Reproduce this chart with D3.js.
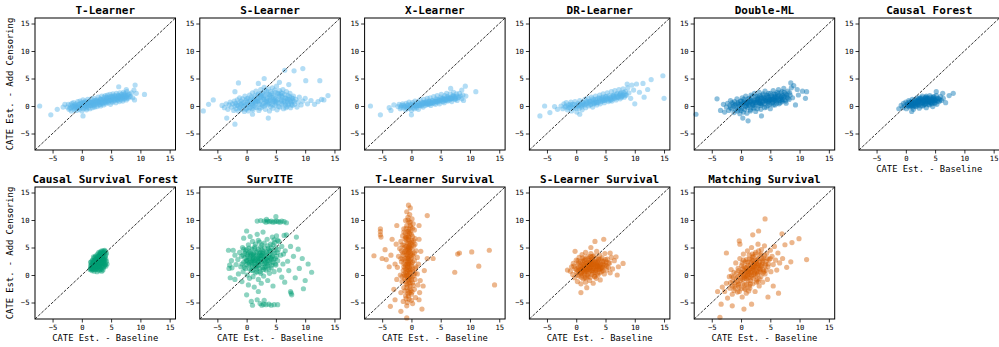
<!DOCTYPE html>
<html>
<head>
<meta charset="utf-8">
<script src="https://cdn.jsdelivr.net/npm/d3@7"></script>
<style>
  html, body { margin: 0; padding: 0; background: #fff; }
  svg { display: block; }
  text { font-family: "DejaVu Sans Mono", monospace; fill: #000; }
</style>
</head>
<body>
<svg id="chart" width="999" height="347"></svg>
<script>
// Estimator names, in panel order (row-major, 6 columns)
const methods = ["T-Learner", "S-Learner", "X-Learner", "DR-Learner", "Double-ML", "Causal Forest",
  "Causal Survival Forest", "SurvITE", "T-Learner Survival", "S-Learner Survival", "Matching Survival"];
const methodColors = ["#56B4E9", "#56B4E9", "#56B4E9", "#56B4E9", "#0072B2", "#0072B2",
  "#009E73", "#009E73", "#D55E00", "#D55E00", "#D55E00"];
const tickValues = [-5, 0, 5, 10, 15];
const axisLimits = [-8, 16];
const xLabel = "CATE Est. - Baseline";
const yLabel = "CATE Est. - Add Censoring";

// [baseline estimate, add-censoring estimate] per unit
const tLearner = [[-2.5,-0.2],[-2.3,0.3],[-2.2,-0.6],[-2.0,-0.4],[-1.9,0.2],[-1.8,-0.9],[-1.7,0.5],[-1.5,-0.1],[-1.4,0.6],[-1.3,-0.7],[-1.2,0.2],[-1.1,-0.3],[-1.0,0.4],[-0.9,-0.8],[-0.8,0.0],[-0.7,0.8],[-0.6,-0.4],[-0.5,0.3],[-0.4,-0.6],[-0.3,0.9],[-0.2,-0.1],[-0.1,0.5],[0.0,-0.9],[0.1,0.2],[0.2,1.1],[0.3,-0.5],[0.4,0.6],[0.5,-0.2],[0.6,0.9],[0.7,0.0],[0.8,-0.7],[0.9,0.5],[1.0,1.2],[1.1,-0.3],[1.2,0.3],[1.3,0.8],[1.4,-0.5],[1.5,0.1],[1.6,1.3],[1.7,0.6],[1.8,-0.3],[1.9,0.9],[2.0,0.2],[2.1,1.4],[2.2,-0.2],[2.3,0.7],[2.4,0.3],[2.5,1.1],[2.6,-0.1],[2.7,0.5],[2.8,1.6],[2.9,0.2],[3.0,0.9],[3.1,1.3],[3.2,0.0],[3.3,0.6],[3.4,1.8],[3.5,0.4],[3.6,1.1],[3.7,0.2],[3.8,1.6],[3.9,0.7],[4.0,1.9],[4.1,0.4],[4.2,1.2],[4.3,0.8],[4.4,2.0],[4.5,0.6],[4.6,1.4],[4.7,1.0],[4.8,2.1],[4.9,0.3],[5.0,1.7],[5.1,1.2],[5.2,0.7],[5.3,2.2],[5.4,1.5],[5.5,0.9],[5.6,1.9],[5.7,1.3],[5.8,0.6],[5.9,2.3],[6.0,1.6],[6.1,1.0],[6.2,2.0],[6.3,1.4],[6.4,0.8],[6.5,2.4],[6.6,1.7],[6.7,1.1],[6.8,2.1],[6.9,1.5],[7.0,0.9],[7.1,2.5],[7.2,1.8],[7.3,1.3],[7.4,2.2],[7.5,1.6],[7.6,1.1],[7.7,2.6],[7.8,1.9],[7.9,1.4],[8.1,2.2],[8.3,1.7],[8.5,2.4],[8.7,1.5],[1.0,0.4],[2.0,0.6],[3.0,0.7],[4.0,1.0],[5.0,1.1],[6.0,1.3],[7.0,1.6],[0.0,0.1],[-1.0,-0.1],
  [-1.8,-0.3],[-1.6,0.0],[-1.3,-0.4],[-1.0,0.1],[-0.7,-0.3],[-0.5,-0.1],[-0.3,0.4],[-0.1,-0.3],[0.1,0.6],[0.3,0.1],[0.5,0.4],[0.7,-0.4],[0.9,0.0],[1.1,0.5],[1.3,0.1],[1.5,0.7],[1.7,0.2],[1.9,0.4],[2.1,0.0],[2.3,1.0],[2.5,0.6],[2.7,0.9],[2.9,0.7],[3.1,0.3],[3.3,1.1],[3.5,0.8],[3.7,1.3],[3.9,1.0],[4.1,0.7],[4.3,1.5],[4.5,1.1],[4.7,1.6],[4.9,1.2],[5.1,0.9],[5.3,1.6],[5.5,1.3],[5.7,1.8],[5.9,1.5],[6.1,1.2],[6.3,1.9],[6.5,1.6],[6.7,2.0],[6.9,1.7],[7.1,1.3],[7.3,2.0],[7.5,1.8],[7.7,1.5],[7.9,2.1],[8.1,1.7],[0.6,0.6],[1.6,0.6],[2.6,0.8],[3.6,0.6],[4.6,0.9],[5.6,1.1],[6.6,1.3],[1.2,0.8],[2.2,1.0],[3.2,1.2],[4.2,1.6],[5.2,1.8],[6.2,1.7],[7.2,2.2],
  [-7.2,0.0],[-5.3,-1.6],[-4.2,-0.6],[-3.2,-0.2],[-2.9,0.3],[0.2,-1.8],[6.3,3.5],[9.1,3.8],[10.7,2.1],[9.0,1.1],[9.3,2.3],[8.9,2.9],[7.6,3.0]];

const sLearner = [[-4.2,0.1],[-3.8,-0.3],[-3.5,0.4],[-3.2,-0.6],[-3.0,0.2],[-2.8,0.7],[-2.6,-0.2],[-2.4,0.4],[-2.2,-0.8],[-2.1,0.9],[-2.0,0.0],[-1.9,0.5],[-1.8,-0.5],[-1.6,1.1],[-1.5,0.1],[-1.4,-0.9],[-1.3,0.6],[-1.2,1.5],[-1.1,-0.2],[-1.0,0.3],[-0.9,0.9],[-0.8,-0.6],[-0.7,1.3],[-0.6,0.0],[-0.5,0.6],[-0.4,-1.0],[-0.3,1.8],[-0.2,0.2],[-0.1,1.0],[0.0,-0.4],[0.1,0.7],[0.2,1.4],[0.3,-0.9],[0.4,0.3],[0.5,2.0],[0.6,0.9],[0.7,-0.2],[0.8,1.6],[0.9,0.4],[1.0,2.4],[1.1,-0.7],[1.2,1.1],[1.3,0.1],[1.4,1.9],[1.5,0.6],[1.6,2.7],[1.7,-0.3],[1.8,1.3],[1.9,0.8],[2.0,2.2],[2.1,-0.8],[2.2,0.3],[2.3,1.7],[2.4,3.0],[2.5,0.9],[2.6,-0.2],[2.7,2.4],[2.8,1.2],[2.9,0.5],[3.0,3.4],[3.1,1.9],[3.2,-0.6],[3.3,0.8],[3.4,2.7],[3.5,1.4],[3.6,0.2],[3.7,3.1],[3.8,2.1],[3.9,-0.9],[4.0,1.0],[4.1,2.6],[4.2,0.4],[4.3,1.6],[4.4,3.3],[4.5,-0.4],[4.6,2.0],[4.7,0.9],[4.8,2.9],[4.9,0.1],[5.0,1.4],[5.1,3.6],[5.2,-0.7],[5.3,2.3],[5.4,0.6],[5.5,1.8],[5.6,2.8],[5.7,-0.2],[5.8,1.1],[5.9,2.4],[6.0,0.3],[6.1,1.6],[6.2,3.0],[6.3,-0.5],[6.4,0.9],[6.5,2.1],[6.6,0.2],[6.7,1.4],[6.8,2.6],[6.9,-0.1],[7.0,0.8],[7.1,1.9],[7.2,0.4],[7.3,1.2],[7.4,2.3],[7.5,-0.3],[7.6,0.7],[7.7,1.5],[7.8,0.1],[7.9,1.0],[8.0,1.8],[8.2,0.3],[8.4,1.2],[8.6,-0.2],[8.8,0.7],[9.0,1.6],[9.3,0.2],[9.6,0.9],[10.0,1.4],[10.4,0.4],[11.0,1.0],[11.6,0.3],[12.2,0.8],[12.8,1.2],[1.0,0.8],[2.0,1.0],[3.0,1.2],[4.0,1.3],[5.0,0.9],[6.0,1.1],[2.5,1.6],[3.5,0.7],[4.5,1.2],[1.5,1.0],
  [-1.7,0.2],[-1.2,-0.4],[-0.8,0.5],[-0.4,0.0],[-0.1,-0.6],[0.2,0.4],[0.5,-0.3],[0.7,1.2],[0.9,-0.5],[1.1,0.5],[1.3,1.5],[1.5,-0.2],[1.7,0.9],[1.9,2.0],[2.1,0.5],[2.3,-0.4],[2.5,1.9],[2.7,0.2],[2.9,1.5],[3.1,2.8],[3.3,0.3],[3.5,2.2],[3.7,0.9],[3.9,1.7],[4.1,-0.1],[4.3,2.3],[4.5,0.8],[4.7,1.6],[4.9,2.5],[5.1,0.4],[5.3,1.2],[5.5,-0.1],[5.7,2.0],[5.9,0.8],[6.1,2.3],[6.3,0.5],[6.5,1.5],[6.7,-0.3],[6.9,1.1],[7.1,0.2],[7.3,1.7],[7.5,0.9],[7.7,0.3],[7.9,1.4],[8.1,0.8],[0.0,1.3],[1.0,0.2],[2.0,1.4],[3.0,0.0],[4.0,2.0],[5.0,0.7],[6.0,1.8],[7.0,1.3],[2.4,2.2],[3.4,1.1],[4.4,0.2],[5.4,2.2],[1.4,0.8],[3.8,0.5],[4.8,1.1],[2.8,2.0],[6.6,0.7],
  [-7.4,-0.9],[-5.7,1.1],[-6.5,0.3],[-3.4,-2.2],[-2.0,-3.3],[-2.0,2.6],[-1.4,4.2],[3.7,-2.2],[3.0,5.0],[6.5,6.5],[8.1,6.4],[9.6,6.8],[10.1,4.6],[12.5,4.6],[13.9,1.9],[13.2,1.1],[1.0,-1.5],[5.6,4.3],[2.0,4.1],[7.2,3.9]];

const xLearner = [[-2.3,-0.1],[-2.1,0.3],[-1.9,-0.5],[-1.7,0.1],[-1.5,0.4],[-1.4,-0.3],[-1.2,0.0],[-1.0,-0.7],[-0.9,0.5],[-0.7,0.1],[-0.6,-0.4],[-0.4,0.7],[-0.3,-0.1],[-0.1,0.3],[0.0,-0.8],[0.2,0.6],[0.3,0.0],[0.5,-0.5],[0.6,0.9],[0.8,0.2],[0.9,-0.3],[1.1,0.7],[1.2,-0.6],[1.4,0.4],[1.5,1.1],[1.7,0.0],[1.8,0.6],[2.0,-0.2],[2.1,1.2],[2.3,0.5],[2.4,0.1],[2.6,0.9],[2.7,1.4],[2.9,0.3],[3.0,0.8],[3.2,1.5],[3.3,0.1],[3.5,1.0],[3.6,0.5],[3.8,1.7],[3.9,0.8],[4.1,0.3],[4.2,1.3],[4.4,1.9],[4.5,0.7],[4.7,1.1],[4.8,0.4],[5.0,1.6],[5.1,2.1],[5.3,0.9],[5.4,1.4],[5.6,0.6],[5.7,1.9],[5.9,1.2],[6.0,2.3],[6.2,0.9],[6.3,1.6],[6.5,1.1],[6.6,2.2],[6.8,1.4],[6.9,0.8],[7.1,1.9],[7.2,2.5],[7.4,1.2],[7.5,1.7],[7.7,2.2],[7.8,1.0],[8.0,1.5],[8.2,2.3],[8.4,1.8],[8.6,1.3],[8.8,2.0],[1.0,0.1],[2.5,0.4],[3.4,0.6],[4.6,1.0],[5.5,1.2],[6.4,1.4],[7.3,1.6],[0.4,0.1],[-0.8,-0.2],[4.0,0.9],[6.1,1.7],[2.2,0.7],[5.2,1.3],[3.1,0.4],[7.6,1.3],[1.6,0.3],[2.8,0.6],[4.3,0.8],[5.8,1.1],[7.0,1.4],
  [-1.8,-0.2],[-1.4,0.1],[-1.0,-0.2],[-0.6,0.2],[-0.3,-0.4],[0.0,0.2],[0.3,-0.3],[0.6,0.4],[0.9,0.0],[1.2,0.5],[1.5,0.1],[1.8,0.2],[2.1,0.6],[2.4,0.6],[2.7,0.3],[3.0,0.9],[3.3,0.5],[3.6,1.0],[3.9,0.5],[4.2,0.9],[4.5,1.2],[4.8,0.8],[5.1,1.2],[5.4,0.8],[5.7,1.4],[6.0,1.0],[6.3,1.4],[6.6,1.5],[6.9,1.3],[7.2,1.8],[7.5,1.4],[7.8,1.8],[8.1,1.6],[1.3,0.1],[2.6,0.5],[3.7,0.7],[4.9,1.0],[6.1,1.3],[7.0,1.7],[0.7,0.0],[1.9,0.5],[3.2,0.7],[4.4,0.9],[5.6,1.1],[6.7,1.3],
  [-7.0,0.0],[-5.3,-1.6],[-3.8,-0.3],[-3.5,-0.8],[-3.0,0.2],[0.0,-1.6],[6.7,3.2],[9.2,3.6],[11.0,2.6],[8.9,1.0],[9.3,1.8],[8.6,2.9]];

const drLearner = [[-2.6,0.0],[-2.3,-0.5],[-2.1,0.4],[-1.9,-0.2],[-1.7,0.6],[-1.5,-0.7],[-1.3,0.2],[-1.1,-0.3],[-0.9,0.7],[-0.8,-0.9],[-0.6,0.3],[-0.4,-0.4],[-0.2,0.8],[0.0,0.0],[0.1,-1.1],[0.3,0.5],[0.5,-0.4],[0.6,1.0],[0.8,0.1],[1.0,-0.7],[1.1,0.7],[1.3,0.2],[1.5,1.2],[1.6,-0.3],[1.8,0.6],[2.0,1.4],[2.1,0.0],[2.3,0.9],[2.5,0.3],[2.6,1.6],[2.8,-0.2],[3.0,1.1],[3.1,0.5],[3.3,1.8],[3.5,0.2],[3.6,1.3],[3.8,0.7],[4.0,2.0],[4.1,0.4],[4.3,1.5],[4.5,0.9],[4.6,2.2],[4.8,0.6],[5.0,1.7],[5.1,1.1],[5.3,2.4],[5.5,0.8],[5.6,1.9],[5.8,1.3],[6.0,2.6],[6.1,0.9],[6.3,2.0],[6.5,1.5],[6.6,2.8],[6.8,1.1],[7.0,2.2],[7.1,1.7],[7.3,3.0],[7.5,1.3],[7.6,2.4],[7.8,1.9],[8.0,3.1],[8.2,1.6],[8.4,2.6],[8.6,2.0],[8.8,3.3],[9.0,2.4],[1.2,0.6],[2.4,0.8],[3.4,0.9],[4.4,1.2],[5.4,1.4],[6.4,1.7],[7.4,2.0],[0.4,0.2],[-1.0,0.0],[2.9,0.6],[4.9,1.3],[6.9,1.8],[8.3,2.2],[3.9,1.0],[5.9,1.6],[1.7,0.4],[3.2,0.7],[4.7,1.0],[6.2,1.3],[7.7,1.6],
  [-1.8,0.0],[-1.4,-0.3],[-1.0,0.3],[-0.6,-0.2],[-0.3,0.3],[0.0,-0.4],[0.3,0.0],[0.6,0.3],[0.9,-0.2],[1.2,0.4],[1.5,0.2],[1.8,0.9],[2.1,0.5],[2.4,0.2],[2.7,0.9],[3.0,0.4],[3.3,1.2],[3.6,0.6],[3.9,1.5],[4.2,0.8],[4.5,1.3],[4.8,1.0],[5.1,1.7],[5.4,1.1],[5.7,1.5],[6.0,1.2],[6.3,1.8],[6.6,1.4],[6.9,2.2],[7.2,1.6],[7.5,2.1],[7.8,1.7],[8.1,2.5],[8.4,1.9],[1.0,0.2],[2.2,0.7],[3.4,0.6],[4.6,1.6],[5.8,1.0],[7.0,1.5],[8.0,2.0],[2.8,1.3],[4.0,1.3],[5.2,1.4],[6.4,1.9],[7.6,2.3],
  [-6.2,-1.8],[-5.4,0.0],[-4.5,-1.2],[-3.7,-0.1],[-3.2,-0.6],[0.6,-1.5],[14.8,5.5],[15.0,1.4],[12.8,4.8],[11.4,4.1],[10.3,4.0],[11.6,1.6],[10.0,0.4],[9.5,3.8],[9.8,2.9],[10.8,2.5],[9.3,1.4],[8.7,4.0],[12.2,3.0]];

const doubleML = [[-2.5,-0.2],[-2.3,0.5],[-2.1,-0.8],[-1.9,0.1],[-1.8,1.0],[-1.6,-0.5],[-1.4,0.4],[-1.2,-1.2],[-1.1,0.8],[-0.9,-0.2],[-0.7,1.3],[-0.6,-0.9],[-0.4,0.3],[-0.2,-1.4],[-0.1,0.9],[0.1,-0.4],[0.2,1.5],[0.4,-1.1],[0.5,0.5],[0.7,-0.1],[0.8,1.8],[1.0,-1.3],[1.1,0.7],[1.3,0.1],[1.4,1.4],[1.6,-0.7],[1.7,2.0],[1.9,0.4],[2.0,-0.3],[2.2,1.1],[2.3,2.3],[2.5,-1.0],[2.6,0.6],[2.8,1.7],[2.9,0.0],[3.1,2.5],[3.2,1.0],[3.4,-0.6],[3.5,0.4],[3.7,2.0],[3.8,1.3],[4.0,-0.3],[4.1,2.7],[4.3,0.8],[4.4,1.6],[4.6,0.1],[4.7,2.3],[4.9,1.1],[5.0,-0.5],[5.2,1.9],[5.3,0.5],[5.5,2.8],[5.6,1.3],[5.8,0.2],[5.9,2.1],[6.1,0.9],[6.2,1.7],[6.4,3.0],[6.5,0.4],[6.7,1.4],[6.8,2.4],[7.0,0.8],[7.1,1.9],[7.3,3.2],[7.4,1.1],[7.6,2.2],[7.7,0.5],[7.9,1.6],[8.0,2.7],[8.2,1.2],[8.4,2.0],[8.6,3.3],[8.8,1.5],[0.0,0.3],[1.2,0.4],[2.4,0.6],[3.3,0.9],[4.2,1.0],[5.1,1.2],[6.0,1.4],[6.9,1.6],[-1.0,0.2],[0.6,0.9],[1.8,1.0],[3.0,0.8],[3.9,1.5],[4.8,0.9],[5.7,1.8],[6.6,1.0],[7.5,1.8],[2.1,0.2],[3.6,0.3],[4.5,1.9],[5.4,0.7],[6.3,2.2],[0.9,0.0],[-0.3,-0.5],[2.7,1.3],[1.5,0.7],[3.4,1.6],[4.6,0.6],[5.8,1.1],[-0.5,0.6],
  [-1.8,-0.3],[-1.5,0.6],[-1.2,0.0],[-0.9,-0.7],[-0.6,0.5],[-0.3,-0.1],[0.0,0.9],[0.0,-0.8],[0.3,0.2],[0.5,1.2],[0.6,-0.6],[0.9,0.6],[1.1,-0.3],[1.2,1.3],[1.4,0.2],[1.6,-0.9],[1.7,0.9],[1.9,1.7],[2.0,0.1],[2.2,-0.4],[2.3,1.0],[2.5,1.8],[2.6,0.3],[2.8,-0.5],[2.9,1.2],[3.1,0.6],[3.2,1.9],[3.4,0.1],[3.5,1.4],[3.7,0.7],[3.8,2.2],[4.0,0.4],[4.1,1.3],[4.3,-0.2],[4.4,2.0],[4.6,0.9],[4.7,1.6],[4.9,0.3],[5.0,2.3],[5.2,1.0],[5.3,1.6],[5.5,0.2],[5.6,2.2],[5.8,1.0],[5.9,1.6],[6.1,0.5],[6.2,2.5],[6.4,1.3],[6.5,1.9],[6.7,0.6],[6.8,1.7],[7.0,2.6],[7.1,1.1],[7.3,1.6],[7.4,2.5],[7.6,0.9],[7.8,2.0],[8.0,1.4],[8.3,2.4],[1.0,0.5],[2.1,0.7],[3.0,1.5],[4.2,1.0],[5.1,1.4],[6.0,1.1],[6.9,1.1],[0.4,0.6],[2.7,0.9],[3.9,1.1],[4.8,1.2],[5.4,1.2],[3.3,0.5],[1.5,0.9],
  [-7.7,-1.5],[-4.1,1.3],[-3.5,-0.8],[-3.0,0.3],[-2.8,-1.1],[1.2,-2.7],[0.3,-2.2],[11.2,2.6],[11.0,1.4],[9.6,3.0],[8.5,4.2],[9.3,0.2],[9.8,2.0],[10.5,2.7],[9.0,3.7],[3.5,-1.8]];

const causalForest = [[-0.8,0.1],[-0.5,-0.3],[-0.4,0.5],[-0.2,0.0],[0.0,0.7],[0.1,-0.5],[0.3,0.3],[0.5,1.0],[0.6,-0.2],[0.8,0.6],[1.0,0.0],[1.1,1.2],[1.3,-0.6],[1.4,0.4],[1.6,0.9],[1.7,-0.1],[1.9,1.5],[2.0,0.3],[2.2,0.8],[2.3,-0.4],[2.5,1.3],[2.6,0.5],[2.8,1.8],[2.9,0.0],[3.1,1.0],[3.2,0.4],[3.4,1.6],[3.5,-0.3],[3.7,0.8],[3.8,1.3],[4.0,0.2],[4.1,1.9],[4.3,0.7],[4.4,1.2],[4.6,-0.1],[4.7,1.6],[4.9,0.6],[5.0,1.1],[5.2,1.9],[5.3,0.3],[5.5,1.4],[5.7,0.8],[5.9,1.7],[6.1,1.0],[6.4,1.4],[0.7,0.3],[1.5,0.6],[2.4,0.9],[3.3,0.8],[4.2,1.0],[5.1,1.0],[1.2,0.2],[2.1,1.1],[3.0,0.6],[3.9,0.6],[4.8,1.3],[2.7,1.1],[3.6,1.1],[1.8,0.5],[0.4,0.0],[4.5,0.5],[3.3,1.5],[2.2,0.2],[2.0,0.7],[3.0,1.0],[4.0,0.9],[1.0,0.5],
  [0.2,0.4],[0.5,0.1],[0.6,0.7],[0.9,0.2],[1.0,0.8],[1.2,-0.2],[1.3,0.6],[1.5,1.1],[1.6,0.2],[1.8,0.9],[1.9,0.0],[2.1,0.6],[2.2,1.3],[2.3,0.4],[2.5,0.9],[2.6,0.0],[2.7,1.5],[2.8,0.6],[3.0,1.2],[3.1,0.2],[3.2,0.9],[3.4,1.3],[3.5,0.5],[3.6,1.5],[3.8,0.9],[3.9,0.3],[4.0,1.4],[4.1,0.9],[4.3,1.6],[4.4,0.4],[4.5,1.1],[4.7,0.8],[4.8,1.7],[4.9,1.0],[5.0,0.5],[5.2,1.3],[5.4,0.9],[5.6,1.3],[5.8,1.1],[3.3,0.3],[2.0,1.0],[1.4,0.0],[4.6,1.4],[3.7,1.3],[2.9,0.9],[1.7,0.7],[0.8,0.0],[4.2,0.7],[3.5,1.8],[2.4,1.5],
  [8.1,2.3],[7.4,1.9],[5.2,2.6],[6.8,0.6],[-1.2,-0.5],[1.0,-1.0],[6.3,2.3]];

const causalSurvivalForest = [[1.4,1.0],[1.5,1.6],[1.5,2.3],[1.7,0.8],[1.7,1.3],[1.8,2.0],[1.8,2.7],[1.9,1.1],[2.0,1.7],[2.0,2.4],[2.1,3.1],[2.1,0.7],[2.2,1.4],[2.3,2.1],[2.3,2.8],[2.4,3.5],[2.4,1.0],[2.5,1.8],[2.5,2.5],[2.6,3.2],[2.6,0.6],[2.7,1.3],[2.7,3.8],[2.8,2.2],[2.8,2.9],[2.9,1.6],[2.9,3.5],[3.0,0.8],[3.0,2.6],[3.1,4.0],[3.1,1.9],[3.2,3.2],[3.2,1.2],[3.3,2.4],[3.3,3.8],[3.4,0.7],[3.4,1.7],[3.5,2.9],[3.5,4.2],[3.6,2.1],[3.6,3.5],[3.7,1.3],[3.7,4.4],[3.8,2.6],[3.8,3.9],[3.9,1.8],[3.9,3.2],[4.0,2.2],[4.0,4.3],[4.1,1.6],[4.1,3.7],[4.2,2.5],[4.3,2.0],[4.2,4.0],[1.6,1.9],[1.9,2.2],[2.2,2.6],[2.5,1.2],[2.8,1.0],[3.1,2.8],[3.4,2.7],[3.7,2.8],[3.0,3.6],[2.6,2.0],[3.3,1.0],[1.6,1.2],[2.0,3.3],[3.9,4.5],[3.4,4.4],[2.9,4.1],[3.6,0.9],[4.1,2.9],[2.4,1.5],[2.7,2.4],[3.0,1.5],[3.3,2.0],[3.6,3.0],[2.2,1.9],[2.9,3.0],[3.2,3.9],
  [1.5,1.2],[1.6,2.4],[1.7,1.7],[1.8,1.0],[1.9,2.6],[2.0,1.3],[2.1,2.2],[2.2,1.0],[2.3,3.3],[2.4,2.0],[2.5,3.0],[2.6,1.6],[2.7,2.8],[2.8,1.5],[2.9,2.5],[3.0,1.9],[3.1,3.3],[3.2,2.1],[3.3,3.0],[3.4,2.3],[3.5,1.5],[3.6,3.9],[3.7,2.4],[3.8,1.6],[3.9,2.8],[4.0,3.4],[4.0,1.9],[3.5,3.4],[2.8,3.4],[2.3,1.6],[3.2,4.2],[3.8,4.1]];

const survITE = [[-1.5,2.8],[-1.2,4.1],[-1.0,1.5],[-0.9,3.4],[-0.7,5.0],[-0.6,0.6],[-0.5,2.3],[-0.3,3.9],[-0.2,1.2],[0.0,4.6],[0.0,2.7],[0.1,0.0],[0.2,3.3],[0.3,5.5],[0.4,1.8],[0.5,-0.6],[0.6,4.2],[0.7,2.5],[0.8,0.9],[0.9,3.7],[1.0,6.1],[1.0,1.6],[1.1,-0.3],[1.2,3.0],[1.3,4.8],[1.4,2.2],[1.5,0.4],[1.5,5.6],[1.6,3.5],[1.7,1.1],[1.8,4.3],[1.9,2.7],[2.0,-0.8],[2.0,6.3],[2.1,1.9],[2.2,3.9],[2.3,0.6],[2.4,5.1],[2.5,2.4],[2.6,4.6],[2.7,1.4],[2.8,3.2],[2.9,-0.2],[3.0,5.8],[3.1,2.1],[3.2,4.0],[3.3,0.9],[3.4,3.0],[3.5,6.5],[3.6,1.7],[3.7,4.8],[3.8,2.6],[3.9,0.3],[4.0,3.8],[4.1,5.6],[4.2,1.3],[4.3,3.3],[4.4,6.9],[4.5,2.3],[4.6,4.5],[4.7,0.6],[4.8,5.9],[4.9,3.0],[5.0,1.8],[5.1,7.1],[5.2,4.1],[5.3,2.6],[5.5,6.1],[5.6,0.9],[5.8,3.6],[6.0,5.2],[6.2,2.0],[6.4,7.2],[6.6,4.4],[-2.0,3.6],[-1.8,1.9],[-2.3,4.5],[-2.5,1.3],[-2.9,1.8],[-3.1,4.5],[-2.6,2.6],[-1.4,0.2],[-0.8,-1.2],[0.3,-1.8],[1.3,-2.2],[2.5,-1.5],[3.6,-1.0],[4.5,-2.0],[1.8,7.4],[0.6,7.0],[-0.5,6.7],[2.8,7.8],[0.0,8.0],[1.2,3.9],[2.3,2.9],[0.5,3.0],[3.4,3.6],[1.7,2.0],[2.7,4.0],[0.9,2.3],[3.0,1.3],[-0.3,3.1],[4.2,2.9],[1.0,2.9],[2.0,3.4],[3.0,2.7],[1.5,1.5],[2.5,3.6],[0.4,2.2],
  [-0.8,2.0],[-0.6,3.6],[-0.4,1.4],[-0.2,4.4],[0.0,1.9],[0.2,2.6],[0.3,4.0],[0.5,1.1],[0.6,3.4],[0.8,2.0],[0.9,4.7],[1.0,0.8],[1.1,2.6],[1.2,3.6],[1.3,1.5],[1.4,5.1],[1.5,2.7],[1.6,4.1],[1.7,0.6],[1.8,3.1],[1.9,1.7],[2.0,4.7],[2.1,2.5],[2.2,1.2],[2.3,3.6],[2.4,0.3],[2.5,2.9],[2.6,5.5],[2.7,2.1],[2.8,4.3],[2.9,1.0],[3.0,3.4],[3.1,4.9],[3.2,2.4],[3.3,1.6],[3.4,4.2],[3.5,2.0],[3.6,5.3],[3.7,3.3],[3.8,1.1],[3.9,4.5],[4.0,2.2],[4.1,3.1],[4.2,4.9],[4.3,1.8],[4.4,3.6],[4.5,5.5],[4.6,2.8],[4.8,4.0],[4.9,2.0],[5.0,5.0],[5.1,3.4],[5.3,6.3],[5.4,4.6],[0.1,3.7],[-0.1,2.5],[0.7,3.9],[1.3,2.5],[2.0,3.0],[2.6,3.5],[3.3,2.9],[4.0,4.3],[1.1,3.3],[1.9,2.3],[2.4,4.1],[3.6,2.6],[0.4,4.9],[-0.5,4.7],[2.2,6.0],[4.7,6.4],
  [3.0,9.8],[3.3,9.6],[3.6,9.8],[3.9,9.7],[4.2,9.8],[4.5,9.6],[4.8,9.7],[5.1,9.8],[5.4,9.7],[5.7,9.6],[6.0,9.8],[6.4,9.7],[2.4,9.9],[1.8,9.8],[5.0,10.6],[3.4,10.1],[6.8,9.5],
  [0.8,-4.8],[1.0,-5.5],[2.3,-5.2],[2.6,-5.5],[2.9,-5.3],[3.3,-5.4],[3.8,-5.3],[4.2,-5.5],[4.7,-5.4],[5.3,-5.4],[1.8,-4.5],[3.0,-4.6],[0.0,-3.6],[2.0,-3.0],
  [6.8,7.3],[8.5,6.9],[7.5,5.2],[6.3,3.8],[7.0,2.5],[8.0,3.4],[9.0,1.2],[9.7,-2.5],[7.6,-3.3],[7.7,-3.6],[7.5,-3.0],[11.1,0.5],[10.5,2.0],[8.3,-0.5],[6.5,-1.3],[9.5,3.0],[7.2,0.8],[6.0,-0.4],[10.0,-1.0],[8.8,4.7],[-2.8,-0.5],[-3.0,1.2],[-2.0,-0.8]];

const tLearnerSurvival = [[-0.5,12.7],[-0.2,12.2],[-0.8,11.5],[-0.3,11.0],[-0.6,10.5],[0.1,10.2],[-1.0,9.9],[-0.4,9.6],[0.3,9.3],[-0.8,9.0],[-0.1,8.7],[-1.3,8.4],[0.5,8.2],[-0.6,7.9],[-1.0,7.6],[0.0,7.4],[-1.5,7.1],[-0.4,6.9],[0.6,6.6],[-0.9,6.4],[-1.8,6.1],[0.1,6.0],[-0.6,5.7],[-1.3,5.4],[0.4,5.3],[-0.2,5.0],[-2.0,4.8],[-0.9,4.6],[0.8,4.4],[-0.4,4.2],[-1.5,4.0],[0.2,3.8],[-0.7,3.6],[-2.2,3.4],[1.0,3.2],[-1.1,3.0],[-0.2,2.8],[0.5,2.6],[-1.7,2.4],[-0.5,2.2],[1.2,2.0],[-1.0,1.8],[0.0,1.6],[-2.4,1.4],[0.7,1.2],[-0.6,1.0],[-1.4,0.8],[0.3,0.6],[-0.3,0.4],[1.0,0.2],[-1.9,0.0],[-0.8,-0.2],[0.1,-0.4],[-1.2,-0.6],[0.6,-0.8],[-0.4,-1.0],[-1.6,-1.2],[0.2,-1.4],[-0.9,-1.6],[1.1,-1.8],[-0.2,-2.0],[-1.3,-2.3],[0.5,-2.6],[-0.6,-2.9],[-1.8,-3.2],[0.0,-3.5],[-1.0,-3.8],[0.7,-4.1],[-0.4,-4.4],[-1.4,-4.8],[0.2,-5.2],[-0.8,-5.6],
  [-0.5,0.0],[-0.3,1.3],[-0.7,2.5],[-0.4,3.3],[-0.6,4.5],[-0.2,5.8],[-0.8,6.8],[-0.5,8.0],[-0.3,-0.6],[-0.7,-1.8],[-0.1,-2.8],[-1.1,1.2],[0.0,2.0],[-1.2,4.2],[-0.1,4.0],[-0.9,5.2],[0.2,7.0],[-1.1,-0.1],[0.4,-0.1],[-0.6,-3.4],[-1.0,6.9],[-0.2,9.0],[0.3,3.5],[-1.5,2.9],[-0.4,1.9],[-0.9,3.7],[0.1,5.5],[-0.6,4.0],[-1.3,1.5],[-0.2,-1.4],[0.8,1.5],[0.6,5.6],[-1.7,4.4],[1.5,-1.0],[1.3,6.5],[-2.6,5.6],[-2.8,2.0],[-2.5,-0.8],[1.6,4.3],[1.4,-3.2],[-0.5,3.0],[-0.3,4.8],[-0.7,0.6],[-0.4,6.2],[-0.6,1.6],[-0.2,2.4],[-0.8,2.0],[-0.5,5.0],[-0.3,7.6],[-0.6,-0.8],
  [-0.9,8.5],[-0.4,8.3],[-0.7,7.2],[-0.2,7.8],[-1.1,6.6],[-0.5,6.5],[0.0,6.3],[-0.8,5.9],[-0.3,5.4],[-1.2,5.0],[-0.6,4.9],[0.1,4.7],[-0.9,4.3],[-0.3,4.4],[-1.4,3.6],[-0.6,3.4],[0.0,3.1],[-1.0,2.6],[-0.4,2.6],[0.2,2.3],[-1.3,2.1],[-0.7,1.4],[-0.1,1.0],[-1.0,0.4],[-0.4,0.8],[0.2,1.1],[-0.8,0.1],[-0.2,-0.2],[-1.3,0.2],[-0.6,-0.5],[0.0,-0.9],[-1.0,-1.1],[-0.4,-1.5],[0.3,-1.9],[-0.8,-2.3],[-0.3,-2.5],[-1.1,-2.9],[0.1,-3.1],[-0.5,-3.8],[-0.9,-4.3],[0.0,-4.6],[-0.7,-5.0],[-0.2,9.6],[-0.6,10.0],[0.2,8.5],[-1.3,7.8],[0.4,6.2],[-1.6,5.5],[0.5,4.0],[-1.8,3.0],[0.6,0.3],[-1.6,-0.3],[-0.5,7.0],[-0.1,3.6],[-0.7,3.0],[-0.4,5.2],[-0.9,1.0],[-0.2,0.5],[-0.6,2.0],[-0.3,-3.2],
  [-5.3,8.4],[-5.3,7.9],[-5.3,7.3],[-5.2,6.9],[-6.4,3.5],[-5.0,3.0],[-4.3,2.8],[-3.8,1.5],[-3.5,3.6],[-4.5,4.6],[-3.0,-2.6],[-3.6,-5.7],[-1.8,-6.6],[1.8,-6.2],[1.3,-4.5],[-0.8,-7.8],[2.7,10.8],[3.7,3.0],[2.7,3.0],[7.4,0.5],[7.9,3.8],[8.2,4.0],[10.3,4.2],[13.3,4.5],[11.5,1.6],[14.2,-1.8],[-2.8,-4.5],[1.3,9.0],[-3.3,6.5],[2.2,0.8],[-2.5,9.0],[2.0,-2.0]];

const sLearnerSurvival = [[-1.0,0.7],[-0.8,1.5],[-0.6,0.1],[-0.5,2.1],[-0.3,-0.5],[-0.2,1.2],[0.0,2.7],[0.1,0.4],[0.2,-1.2],[0.3,1.8],[0.5,3.2],[0.5,-0.2],[0.6,1.0],[0.7,2.4],[0.8,-1.6],[0.9,0.5],[1.0,3.7],[1.1,1.6],[1.2,-0.7],[1.3,2.8],[1.4,0.2],[1.5,1.2],[1.6,4.1],[1.6,-1.3],[1.7,2.1],[1.8,0.7],[1.9,3.3],[2.0,-0.3],[2.1,1.5],[2.2,2.6],[2.3,-1.0],[2.4,0.9],[2.5,3.9],[2.6,1.9],[2.7,0.1],[2.8,2.9],[2.9,-1.5],[3.0,1.2],[3.1,3.5],[3.2,0.5],[3.3,2.3],[3.4,-0.6],[3.5,4.3],[3.6,1.6],[3.7,0.0],[3.8,2.8],[3.9,1.0],[4.0,3.6],[4.1,-0.9],[4.2,2.0],[4.3,0.6],[4.4,3.1],[4.5,1.4],[4.7,2.5],[4.8,0.2],[4.9,3.9],[5.0,1.8],[5.2,0.9],[5.3,2.9],[5.5,1.4],[5.7,2.2],[5.8,0.4],[6.0,3.2],[6.2,1.1],[6.5,2.6],[0.4,1.3],[1.0,2.0],[1.5,0.6],[2.0,1.0],[2.5,1.4],[3.0,2.0],[3.5,1.2],[4.0,1.6],[1.2,1.1],[2.2,1.9],[2.8,0.8],[3.3,1.5],[1.8,1.4],[0.8,0.3],[3.8,1.9],[2.4,2.3],[1.4,2.6],[2.9,2.2],[4.6,2.0],[0.3,0.8],[2.1,0.3],[3.6,2.5],[1.7,-0.5],[3.1,-0.2],[4.4,1.1],[2.6,3.2],[1.1,3.1],[-0.4,1.6],[5.1,2.4],[1.9,1.8],[2.7,1.6],[3.4,0.9],[1.3,0.9],[2.3,1.2],
  [0.0,1.0],[0.2,0.0],[0.4,2.2],[0.6,0.5],[0.7,1.6],[0.9,-0.4],[1.0,1.2],[1.1,2.5],[1.3,0.3],[1.4,1.7],[1.5,-0.5],[1.6,2.9],[1.7,0.9],[1.8,2.2],[1.9,0.0],[2.0,1.7],[2.1,3.0],[2.2,0.6],[2.3,2.0],[2.4,-0.4],[2.5,2.7],[2.6,0.8],[2.7,1.9],[2.8,3.4],[2.9,0.4],[3.0,1.6],[3.1,2.5],[3.2,-0.3],[3.3,0.8],[3.4,3.0],[3.5,1.8],[3.6,0.3],[3.7,2.2],[3.8,1.1],[3.9,2.9],[4.0,0.4],[4.1,1.9],[4.2,2.8],[4.3,1.3],[4.5,2.4],[4.6,0.8],[4.8,1.7],[5.0,2.8],[5.2,1.6],[5.5,2.2],[1.2,1.9],[2.3,1.3],[3.4,2.1],[0.8,1.0],[1.6,1.0],[2.7,2.5],[3.7,1.5],[2.0,2.2],[2.9,1.2],[1.0,0.0],[4.1,1.2],[0.3,2.6],[2.4,3.4],
  [-1.5,0.9],[8.0,2.1],[7.0,0.0],[4.7,6.5],[3.2,6.1],[0.8,-3.2],[6.8,3.3],[-0.2,4.3],[2.5,5.0],[5.8,4.0],[1.8,-2.3],[7.2,1.5]];

const matchingSurvival = [[-2.8,-3.0],[-2.5,-1.5],[-2.3,-4.2],[-2.0,-0.3],[-1.9,-2.4],[-1.7,1.0],[-1.5,-3.5],[-1.4,-1.1],[-1.2,0.5],[-1.1,-2.0],[-0.9,2.2],[-0.8,-0.6],[-0.6,-3.1],[-0.5,1.2],[-0.4,-1.6],[-0.2,3.0],[-0.1,0.0],[0.0,-2.5],[0.1,1.7],[0.2,-4.0],[0.3,-0.8],[0.4,3.8],[0.5,0.8],[0.6,-1.8],[0.7,2.4],[0.8,-0.2],[0.9,-3.3],[1.0,1.4],[1.1,4.4],[1.2,-1.1],[1.3,0.4],[1.4,2.9],[1.5,-2.4],[1.6,1.9],[1.7,-0.5],[1.8,5.0],[1.9,0.9],[2.0,-1.6],[2.1,3.4],[2.2,0.1],[2.3,2.2],[2.4,-3.0],[2.5,4.1],[2.6,1.3],[2.7,-0.9],[2.8,2.8],[2.9,5.6],[3.0,0.5],[3.1,-2.0],[3.2,3.6],[3.3,1.7],[3.4,-0.3],[3.5,4.6],[3.6,2.4],[3.7,-1.3],[3.8,1.0],[3.9,3.1],[4.0,5.3],[4.1,0.2],[4.2,2.0],[4.4,3.9],[4.5,-0.8],[4.6,1.5],[4.8,2.8],[5.0,4.5],[5.1,0.6],[5.3,3.4],[5.5,1.9],[5.7,5.2],[5.9,2.7],[6.1,0.9],[6.3,4.0],[6.6,2.2],[0.0,0.5],[0.6,0.2],[1.2,1.0],[1.8,0.4],[2.4,1.6],[3.0,2.0],[0.9,-0.7],[1.5,0.1],[2.1,1.1],[2.7,0.6],[3.3,1.2],[-0.5,-0.3],[0.3,1.1],[1.1,2.3],[2.0,2.6],[3.6,3.0],[1.6,-1.0],[2.5,-0.2],[-1.0,-1.4],[4.3,2.5],[0.7,-2.6],[-0.3,-2.2],[1.9,3.8],[2.9,-1.2],[-1.6,-0.2],[3.9,0.7],[0.4,2.7],[1.4,-2.0],[1.0,0.6],[2.2,1.5],[1.7,1.2],[2.6,2.1],[0.5,-0.4],
  [-1.8,-1.4],[-1.5,-2.0],[-1.3,-0.4],[-1.0,-2.4],[-0.8,0.3],[-0.6,-1.2],[-0.4,0.8],[-0.3,-3.0],[-0.1,-1.0],[0.1,0.4],[0.2,2.2],[0.3,-1.6],[0.5,1.5],[0.6,-0.6],[0.8,0.6],[0.9,2.8],[1.0,-1.7],[1.1,0.0],[1.2,1.8],[1.3,-0.4],[1.4,3.6],[1.5,1.1],[1.6,-1.6],[1.7,2.3],[1.8,-0.1],[1.9,1.5],[2.0,3.2],[2.1,-0.6],[2.2,2.0],[2.3,0.6],[2.4,3.8],[2.5,0.9],[2.6,-1.3],[2.7,2.0],[2.8,0.1],[2.9,3.0],[3.0,1.3],[3.1,-0.7],[3.2,2.4],[3.3,0.6],[3.4,3.8],[3.5,1.6],[3.7,2.7],[3.8,0.4],[4.0,3.6],[4.1,1.7],[4.3,0.9],[4.5,3.0],[4.7,2.0],[5.0,3.0],[0.0,-0.6],[0.4,0.0],[0.8,1.3],[1.2,0.7],[1.6,0.5],[2.0,1.4],[2.4,0.3],[2.8,1.7],[3.2,1.0],[3.6,2.0],[1.0,-0.3],[1.8,2.8],[2.6,2.6],[-0.5,-1.8],[0.6,-2.4],[1.3,-2.9],[3.0,4.4],[-1.2,-2.8],
  [11.2,2.8],[9.9,6.6],[8.7,5.9],[4.1,10.2],[-3.6,-7.7],[-3.4,-5.3],[6.4,-3.3],[7.1,3.0],[7.5,5.5],[7.0,7.5],[3.0,8.0],[2.0,7.3],[-0.3,6.2],[-2.5,4.0],[-3.2,-2.2],[-4.0,-3.0],[0.5,-6.2],[1.8,-5.3],[4.6,-4.0],[-1.5,-5.6],[5.5,-2.0],[-0.2,5.6],[7.8,1.4],[8.5,2.4]];

const methodData = [tLearner, sLearner, xLearner, drLearner, doubleML, causalForest,
  causalSurvivalForest, survITE, tLearnerSurvival, sLearnerSurvival, matchingSurvival];

// ---- layout ----
const svg = d3.select("#chart");
const colLeft0 = 35, colStep = 164.8, panelW = 140.5;
const rowTops = [18, 187], panelH = 132;

methods.forEach((name, i) => {
  const row = Math.floor(i / 6), col = i % 6;
  const left = colLeft0 + col * colStep, top = rowTops[row];
  const x = d3.scaleLinear().domain(axisLimits).range([left, left + panelW]);
  const y = d3.scaleLinear().domain(axisLimits).range([top + panelH, top]);
  const g = svg.append("g");

  // scatter
  g.append("g").selectAll("circle").data(methodData[i]).join("circle")
    .attr("cx", d => x(d[0])).attr("cy", d => y(d[1])).attr("r", 2.6)
    .attr("fill", methodColors[i]).attr("fill-opacity", 0.45);

  // identity line
  g.append("line")
    .attr("x1", x(axisLimits[0])).attr("y1", y(axisLimits[0]))
    .attr("x2", x(axisLimits[1])).attr("y2", y(axisLimits[1]))
    .attr("stroke", "#000").attr("stroke-width", 0.8).attr("stroke-dasharray", "3,1.4");

  // axes
  const ax = g.append("g").attr("transform", `translate(0,${top + panelH})`)
    .call(d3.axisBottom(x).tickValues(tickValues).tickSize(3.5).tickPadding(2));
  const ay = g.append("g").attr("transform", `translate(${left},0)`)
    .call(d3.axisLeft(y).tickValues(tickValues).tickSize(3.5).tickPadding(2));
  [ax, ay].forEach(a => {
    a.select(".domain").remove();
    a.selectAll("line").attr("stroke", "#000").attr("stroke-width", 0.8);
    a.selectAll("text").style("font-family", "'DejaVu Sans Mono', monospace")
      .style("font-size", "7.2px").attr("fill", "#000");
  });

  // frame
  g.append("rect").attr("x", left).attr("y", top).attr("width", panelW).attr("height", panelH)
    .attr("fill", "none").attr("stroke", "#000").attr("stroke-width", 1);

  // title
  g.append("text").attr("x", left + panelW / 2).attr("y", top - 4.5)
    .attr("text-anchor", "middle").style("font-size", "11px").style("font-weight", "bold")
    .text(name);

  if (col === 0) {
    g.append("text")
      .attr("transform", `translate(${left - 22},${top + panelH / 2}) rotate(-90)`)
      .attr("text-anchor", "middle").style("font-size", "8.8px").text(yLabel);
  }
  if (row === 1 || i === 5) {
    g.append("text").attr("x", left + panelW / 2).attr("y", top + panelH + 22)
      .attr("text-anchor", "middle").style("font-size", "8.8px").text(xLabel);
  }
});
</script>
</body>
</html>
